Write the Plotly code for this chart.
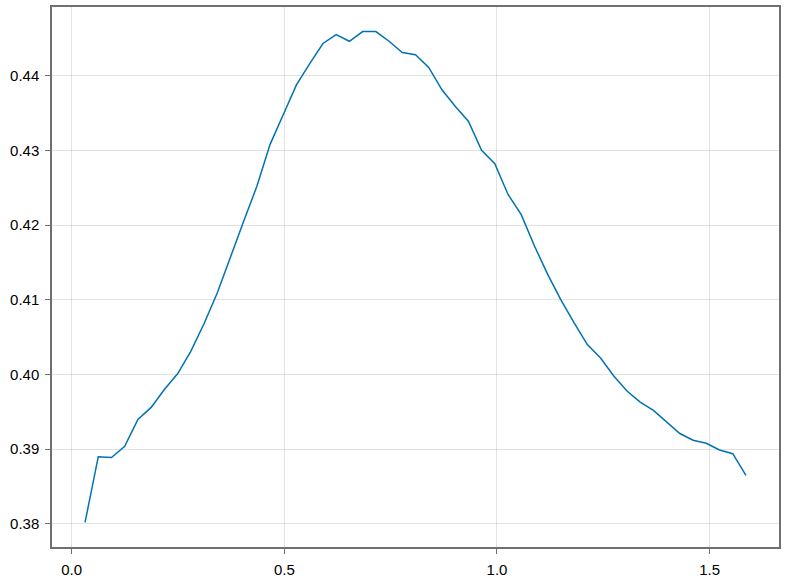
import numpy as np
import plotly.graph_objects as go

x_start = 0.0314
x_end = 1.5855
n_points = 51
x_values = list(np.linspace(x_start, x_end, n_points))

y_values = [
    0.3802, 0.3890, 0.3889, 0.3904, 0.3940, 0.3956, 0.3980, 0.4001, 0.4031, 0.4068,
    0.4109, 0.4158, 0.4205, 0.4252, 0.4308, 0.4348, 0.4388, 0.4416, 0.4443, 0.4455,
    0.4446, 0.4459, 0.4459, 0.4446, 0.4431, 0.4428, 0.4411, 0.4381, 0.4359, 0.4339,
    0.4300, 0.4282, 0.4241, 0.4214, 0.4172, 0.4134, 0.4100, 0.4069, 0.4040, 0.4022,
    0.3998, 0.3978, 0.3963, 0.3952, 0.3937, 0.3921, 0.3912, 0.3908, 0.3899, 0.3894,
    0.3865,
]

x_tick_vals = [0.0, 0.5, 1.0, 1.5]
x_tick_text = ["0.0", "0.5", "1.0", "1.5"]
y_tick_vals = [0.38, 0.39, 0.40, 0.41, 0.42, 0.43, 0.44]
y_tick_text = ["0.38", "0.39", "0.40", "0.41", "0.42", "0.43", "0.44"]

fig = go.Figure()
fig.add_trace(go.Scatter(
    x=x_values, y=y_values, mode="lines",
    line=dict(color="#0072B2", width=1.5),
    showlegend=False,
))

axis_common = dict(
    showgrid=True, gridcolor="rgba(0,0,0,0.11)", gridwidth=1,
    showline=True, linecolor="#707070", linewidth=1.5, mirror=True,
    ticks="outside", ticklen=5, tickcolor="#707070", tickwidth=1,
    zeroline=False, automargin=False, ticklabelstandoff=3,
    tickfont=dict(family="Liberation Sans, Arial, sans-serif", size=15, color="#000"),
)

xr = (x_end - x_start)
yr = (max(y_values) - min(y_values))
fig.update_xaxes(range=[x_start - 0.05 * xr, x_end + 0.05 * xr],
                 tickvals=x_tick_vals, ticktext=x_tick_text, **axis_common)
fig.update_yaxes(range=[min(y_values) - 0.05 * yr, max(y_values) + 0.05 * yr],
                 tickvals=y_tick_vals, ticktext=y_tick_text, **axis_common)

fig.update_layout(
    width=787, height=585,
    margin=dict(l=52, r=8, t=7, b=38),
    plot_bgcolor="white", paper_bgcolor="white",
)

fig.write_html(
    "out.html",
    config={"displayModeBar": False},
    post_script="document.body.style.margin='0px'; document.body.style.overflow='hidden';",
)
